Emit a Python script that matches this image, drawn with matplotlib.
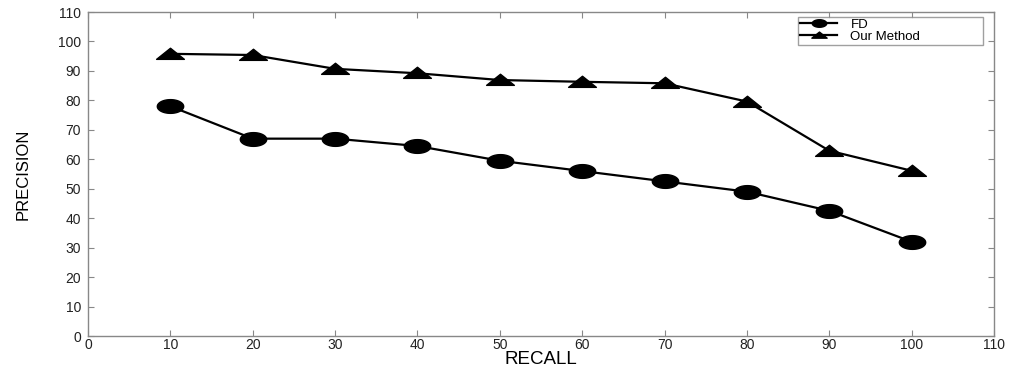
import numpy as np
import matplotlib
matplotlib.use("Agg")
import matplotlib.pyplot as plt
from matplotlib.path import Path

# ====== Veri ======
recall = [10, 20, 30, 40, 50, 60, 70, 80, 90, 100]
fd = [78, 67, 67, 64.5, 59.5, 56, 52.5, 49, 42.5, 32]
our_method = [95.8, 95.4, 90.7, 89.2, 86.9, 86.3, 85.8, 79.6, 62.9, 56.1]
ticks = list(range(0, 111, 10))

plt.rcParams["font.family"] = ["Liberation Sans", "DejaVu Sans"]

# squashed markers (the original picture is stretched horizontally)
t = np.linspace(0, 2 * np.pi, 60)
ellipse = Path(np.column_stack([np.cos(t), 0.52 * np.sin(t)]), closed=True)
flat_tri = Path([(-1, -0.35), (1, -0.35), (0, 0.45), (-1, -0.35)], closed=True)

fig = plt.figure(figsize=(10.13, 3.69), dpi=100)
ax = fig.add_axes([88 / 1013, 33 / 369, 906 / 1013, 324 / 369])

ax.plot(recall, fd, color="black", lw=1.6, marker=ellipse, ms=19, label="FD")
ax.plot(recall, our_method, color="black", lw=1.6, marker=flat_tri, ms=20,
        label="Our Method")

ax.set_xlim(0, 110)
ax.set_ylim(0, 110)
ax.set_xticks(ticks)
ax.set_yticks(ticks)
ax.tick_params(direction="in", top=True, right=True, length=4,
               color="#888888", labelsize=10, labelcolor="#222222")
ax.tick_params(axis="x", pad=1.5)
ax.tick_params(axis="y", pad=5)
for s in ax.spines.values():
    s.set_color("#888888")
    s.set_linewidth(1.0)

ax.set_xlabel("RECALL", fontsize=13.5, labelpad=-1)
ax.set_ylabel("PRECISION", fontsize=12, labelpad=20)

leg = ax.legend(loc="upper left", bbox_to_anchor=(0.784, 0.985, 0.204, 0),
                mode="expand", borderaxespad=0, fontsize=9.5, handlelength=2.8,
                frameon=True, fancybox=False, borderpad=0.15, labelspacing=-0.05,
                markerscale=0.55, handletextpad=1.0)
leg.get_frame().set_edgecolor("#888888")
leg.get_frame().set_linewidth(1.0)

fig.savefig("out.png", dpi=100)
